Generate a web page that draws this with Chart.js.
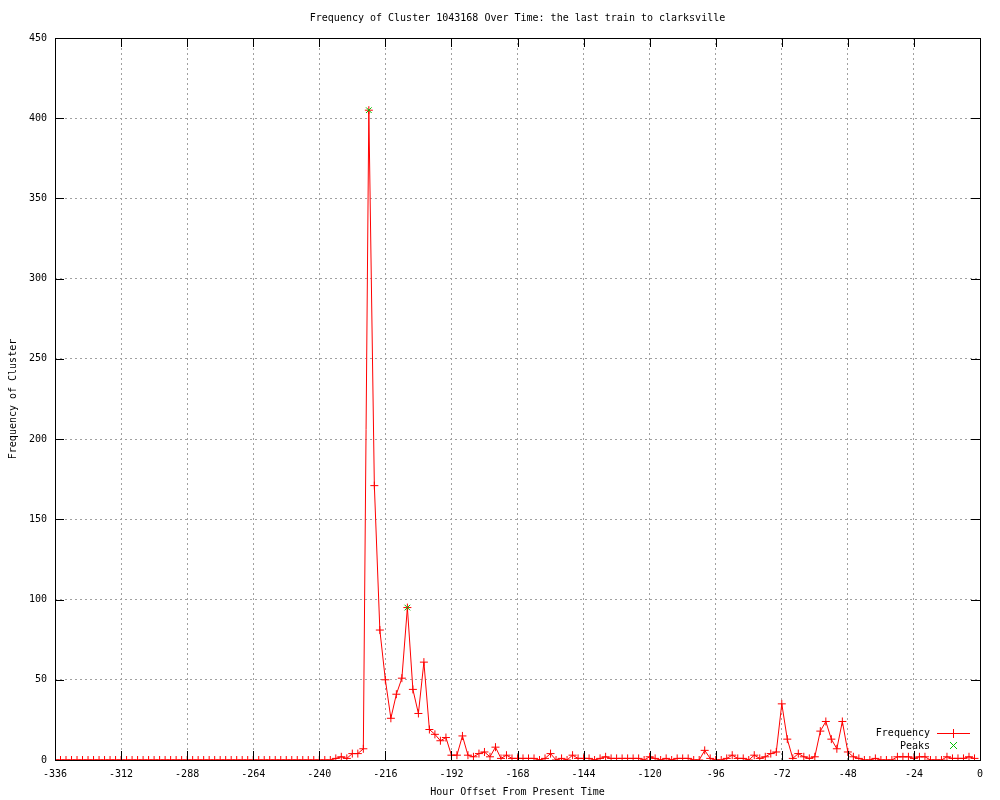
<!DOCTYPE html>
<html>
<head>
<meta charset="utf-8">
<script src="https://cdn.jsdelivr.net/npm/chart.js@4"></script>
<style>
  html, body { margin: 0; background: #fff; }
  #wrap { width: 1000px; height: 800px; }
</style>
</head>
<body>
<div id="wrap"><canvas id="grafico"></canvas></div>
<script>
// ------------ Data ------------
const startHour = -336;
const stepHours = 2;

const frequency = [
  0, 0, 0, 0, 0, 0, 0, 0, 0, 0,
  0, 0, 0, 0, 0, 0, 0, 0, 0, 0,
  0, 0, 0, 0, 0, 0, 0, 0, 0, 0,
  0, 0, 0, 0, 0, 0, 0, 0, 0, 0,
  0, 0, 0, 0, 0, 0, 0, 0, 0, 0,   // -336 .. -238
  0, 1, 2, 1, 4, 4, 7,              // -236 .. -224
  405, 171, 81, 50, 26, 41, 51, 95, 44, 29, 61, 19, 16, 12, 14,  // -222 .. -194
  3, 3, 15, 3, 2, 4, 5, 2, 8, 1, 3, 1,                            // -192 .. -170
  1, 1, 1, 1, 0, 1, 4, 0, 1, 0, 3, 1,                            // -168 .. -146
  1, 1, 0, 1, 2, 1, 1, 1, 1, 1, 1, 0,                            // -144 .. -122
  2, 1, 0, 1, 0, 1, 1, 1, 0, 0, 6, 1,                            // -120 .. -98
  0, 0, 1, 3, 1, 1, 0, 3, 1, 2, 4, 5,                            // -96 .. -74
  35, 13, 1, 4, 2, 1, 2, 18, 24, 13, 7, 24,                      // -72 .. -50
  5, 2, 1, 0, 0, 1, 0, 0, 0, 2, 2, 2,                            // -48 .. -26
  1, 2, 2, 0, 0, 0, 2, 1, 1, 1, 2, 1                             // -24 .. -2
];

const peakHours = [-222, -208];
const peakValues = [405, 95];

const xTicks = [-336, -312, -288, -264, -240, -216, -192, -168, -144, -120, -96, -72, -48, -24, 0];
const yTicks = [0, 50, 100, 150, 200, 250, 300, 350, 400, 450];

const titleText = 'Frequency of Cluster 1043168 Over Time: the last train to clarksville';
const xTitle = 'Hour Offset From Present Time';
const yTitle = 'Frequency of Cluster';

const fonte = '"DejaVu Sans Mono", "Liberation Mono", monospace';
const vermelho = '#ff0000';
const verde = '#00c000';

const pontosFreq = frequency.map((v, i) => ({ x: startHour + i * stepHours, y: v }));
const pontosPico = peakHours.map((h, i) => ({ x: h, y: peakValues[i] }));

// ------------ Decorations (gnuplot look) ------------
const gnuplotBox = {
  id: 'gnuplotBox',
  afterDatasetsDraw(chart) {
    const { ctx, chartArea: a, scales } = chart;
    const tl = 9;
    ctx.save();
    ctx.setLineDash([]);
    ctx.strokeStyle = '#000';
    ctx.lineWidth = 1;
    ctx.beginPath();
    xTicks.forEach(t => {
      const px = Math.round(scales.x.getPixelForValue(t)) + 0.5;
      ctx.moveTo(px, a.bottom); ctx.lineTo(px, a.bottom - tl);
      ctx.moveTo(px, a.top); ctx.lineTo(px, a.top + tl);
    });
    yTicks.forEach(t => {
      const py = Math.round(scales.y.getPixelForValue(t)) + 0.5;
      ctx.moveTo(a.left, py); ctx.lineTo(a.left + tl, py);
      ctx.moveTo(a.right, py); ctx.lineTo(a.right - tl, py);
    });
    ctx.stroke();
    ctx.strokeRect(Math.round(a.left) + 0.5, Math.round(a.top) + 0.5,
      Math.round(a.right - a.left), Math.round(a.bottom - a.top));

    // legenda
    ctx.fillStyle = '#000';
    ctx.font = '10px ' + fonte;
    ctx.textAlign = 'right';
    ctx.textBaseline = 'middle';
    ctx.fillText('Frequency', 930, 733);
    ctx.fillText('Peaks', 930, 746);

    ctx.lineWidth = 1;
    ctx.strokeStyle = vermelho;
    ctx.beginPath();
    ctx.moveTo(937, 733.5); ctx.lineTo(970, 733.5);
    ctx.moveTo(953.5, 729); ctx.lineTo(953.5, 738);
    ctx.stroke();

    ctx.strokeStyle = verde;
    ctx.beginPath();
    ctx.moveTo(950, 742); ctx.lineTo(957, 749);
    ctx.moveTo(957, 742); ctx.lineTo(950, 749);
    ctx.stroke();

    // titulos
    ctx.fillStyle = '#000';
    ctx.textAlign = 'center';
    ctx.fillText(titleText, (a.left + a.right) / 2, 18);
    ctx.fillText(xTitle, (a.left + a.right) / 2, 792);
    ctx.translate(13, (a.top + a.bottom) / 2);
    ctx.rotate(-Math.PI / 2);
    ctx.fillText(yTitle, 0, 0);
    ctx.restore();
  }
};

// ------------ Chart ------------
const grid = {
  color: '#a0a0a0',
  lineWidth: 1,
  drawTicks: false
};

new Chart(document.getElementById('grafico'), {
  type: 'scatter',
  data: {
    datasets: [
      {
        label: 'Frequency',
        data: pontosFreq,
        showLine: true,
        borderColor: vermelho,
        borderWidth: 1,
        tension: 0,
        pointStyle: 'cross',
        pointRadius: 4,
        pointBorderColor: vermelho,
        pointBorderWidth: 1,
        order: 2
      },
      {
        label: 'Peaks',
        data: pontosPico,
        showLine: false,
        pointStyle: 'crossRot',
        pointRadius: 4,
        pointBorderColor: verde,
        pointBorderWidth: 1,
        order: 1
      }
    ]
  },
  options: {
    responsive: true,
    maintainAspectRatio: false,
    animation: false,
    layout: { padding: { top: 38, right: 20, left: 0, bottom: 0 } },
    plugins: {
      legend: { display: false },
      title: { display: false },
      tooltip: { enabled: false }
    },
    scales: {
      x: {
        type: 'linear',
        min: -336,
        max: 0,
        afterBuildTicks(scale) { scale.ticks = xTicks.map(v => ({ value: v })); },
        afterFit(scale) { scale.height = 40; },
        grid: { ...grid },
        border: { display: false, dash: [2, 3] },
        ticks: { color: '#000', padding: 8, maxRotation: 0, autoSkip: false, font: { family: fonte, size: 10 } }
      },
      y: {
        min: 0,
        max: 450,
        afterBuildTicks(scale) { scale.ticks = yTicks.map(v => ({ value: v })); },
        afterFit(scale) { scale.width = 55; },
        grid: { ...grid },
        border: { display: false, dash: [2, 3] },
        ticks: { color: '#000', padding: 8, font: { family: fonte, size: 10 } }
      }
    }
  },
  plugins: [gnuplotBox]
});
</script>
</body>
</html>
